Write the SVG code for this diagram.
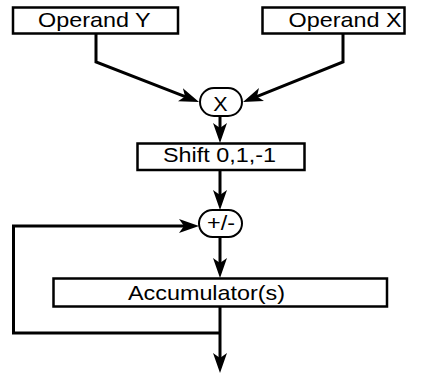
<svg xmlns="http://www.w3.org/2000/svg" width="422" height="374" viewBox="0 0 422 374">
<style>
.box{fill:#fff;stroke:#000;stroke-width:2.5}
.pill{fill:#fff;stroke:#000;stroke-width:2}
.lbl{font-family:"Liberation Sans",Arial,sans-serif;font-size:20.5px;fill:#000}
.wire{fill:none;stroke:#000;stroke-width:3;stroke-linejoin:miter}
</style>
<defs>
<marker id="ah" viewBox="0 0 20 16" refX="10" refY="8" markerWidth="20" markerHeight="16" markerUnits="userSpaceOnUse" orient="auto">
<path d="M0,1 L20,8 L0,15 L5,8 Z" fill="#000"/>
</marker>
</defs>
<rect width="422" height="374" fill="#fff"/>
<g id="connectors">
<path class="wire" d="M96,34 V62 L189.7,98.4" marker-end="url(#ah)"/>
<path class="wire" d="M343,34 V62 L252.3,98.3" marker-end="url(#ah)"/>
<path class="wire" d="M220,116 V133" marker-end="url(#ah)"/>
<path class="wire" d="M220,170 V200" marker-end="url(#ah)"/>
<path class="wire" d="M220,237 V268" marker-end="url(#ah)"/>
<path class="wire" d="M220,307 V363" marker-end="url(#ah)"/>
<path class="wire" d="M220,333 H13.5 V226 H189" marker-end="url(#ah)"/>
</g>
<g id="operandY">
<rect class="box" x="13" y="7.5" width="165" height="26"/>
<text class="lbl" transform="translate(38,26.5) scale(1.14,1)">Operand Y</text>
</g>
<g id="operandX">
<rect class="box" x="262.5" y="7.5" width="142" height="26"/>
<text class="lbl" transform="translate(288.5,26.5) scale(1.14,1)">Operand X</text>
</g>
<g id="multiply">
<rect class="pill" x="200" y="88" width="42" height="28" rx="14"/>
<text class="lbl" text-anchor="middle" transform="translate(220.5,111) scale(1.05,1)">X</text>
</g>
<g id="shift">
<rect class="box" x="137.5" y="143.5" width="167" height="26.5"/>
<text class="lbl" transform="translate(163,161.5) scale(1.14,1)">Shift 0,1,-1</text>
</g>
<g id="addsub">
<rect class="pill" x="199" y="210" width="43" height="27" rx="13.5"/>
<text class="lbl" text-anchor="middle" transform="translate(221,229.5) scale(1.14,1)">+/-</text>
</g>
<g id="accumulator">
<rect class="box" x="53.5" y="278.5" width="333.5" height="28"/>
<text class="lbl" transform="translate(128,300) scale(1.14,1)">Accumulator(s)</text>
</g>
</svg>
